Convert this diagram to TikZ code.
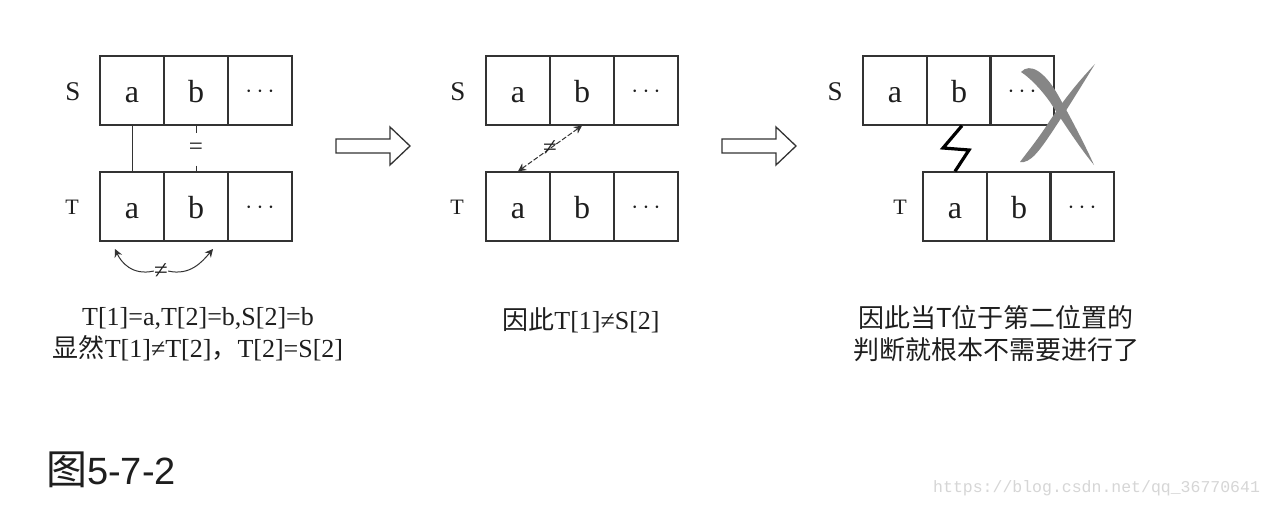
\documentclass[tikz,border=0pt]{standalone}
\usepackage{fontspec}
\setmainfont{Liberation Serif}
\newfontfamily\cjk{Noto Sans CJK SC}
\newfontfamily\capsans{Liberation Sans}
\newfontfamily\wmono{Liberation Mono}
\usetikzlibrary{arrows.meta}
\definecolor{boxline}{HTML}{333333}
\definecolor{txt}{HTML}{1E1E1E}
\definecolor{xgray}{HTML}{868686}
\definecolor{wm}{HTML}{D6D6D6}
\newcommand{\celldots}{\raisebox{5pt}{\(\cdots\)}}
\begin{document}
\begin{tikzpicture}[x=1pt,y=-1pt,
 cell/.style={draw=boxline, line width=1.3pt, minimum width=64pt, minimum height=69pt, inner sep=0pt, text height=24pt, text depth=0pt, font=\fontsize{32}{32}\selectfont, text=txt},
 lblS/.style={font=\fontsize{27}{27}\selectfont, text=txt, inner sep=0pt},
 lblT/.style={font=\fontsize{22}{22}\selectfont, text=txt, inner sep=0pt},
 captext/.style={font=\fontsize{26}{32}\selectfont, text=txt, align=center, inner sep=0pt},
 sym/.style={font=\fontsize{25}{25}\selectfont, text=txt, inner sep=0pt},
 conn/.style={line width=1pt, draw=boxline},
 tip/.style={-{Stealth[length=8pt,width=8pt,inset=2.5pt]}},
 hollow/.style={draw=boxline, line width=1.3pt, line join=miter, fill=white},
]
\fill[white] (0,0) rectangle (1274,508);
\useasboundingbox (0,0) rectangle (1274,508);

% ---------- panel 1 ----------
\node[lblS] (p1S) at (73,92) {S};
\node[lblT] (p1T) at (72,207) {T};
\node[cell] (s1a) at (132,90.5) {a};
\node[cell] (s1b) at (196,90.5) {b};
\node[cell] (s1c) at (260,90.5) {\celldots};
\node[cell] (t1a) at (132,206.5) {a};
\node[cell] (t1b) at (196,206.5) {b};
\node[cell] (t1c) at (260,206.5) {\celldots};
\draw[conn] (s1a.south) -- (t1a.north);
\draw[conn, dash pattern=on 7pt off 33pt on 7pt] (s1b.south) -- node[sym]{=} (t1b.north);
\node[sym] (ne1) at (161,271) {≠};
\coordinate (l1) at (115,249);
\coordinate (r1) at (213,249);
\draw[conn,tip] (ne1.west) .. controls (132,276) and (121,262) .. (l1);
\draw[conn,tip] (ne1.east) .. controls (190,276) and (202,262) .. (r1);
\node[captext] (c1) at (198,334) {T[1]=a,T[2]=b,S[2]=b\\{\cjk 显然}T[1]≠T[2]{\cjk ，}T[2]=S[2]};

% ---------- arrows between panels ----------
\draw[hollow] (336,139) -- (390,139) -- (390,127) -- (410,146) -- (390,165) -- (390,153) -- (336,153) -- cycle;
\draw[hollow] (722,139) -- (776,139) -- (776,127) -- (796,146) -- (776,165) -- (776,153) -- (722,153) -- cycle;

% ---------- panel 2 ----------
\node[lblS] (p2S) at (458,92) {S};
\node[lblT] (p2T) at (457,207) {T};
\node[cell] (s2a) at (518,90.5) {a};
\node[cell] (s2b) at (582,90.5) {b};
\node[cell] (s2c) at (646,90.5) {\celldots};
\node[cell] (t2a) at (518,206.5) {a};
\node[cell] (t2b) at (582,206.5) {b};
\node[cell] (t2c) at (646,206.5) {\celldots};
\draw[conn, dash pattern=on 5pt off 2pt, {Stealth[length=8pt,width=8pt,inset=2.5pt]}-{Stealth[length=8pt,width=8pt,inset=2.5pt]}] (t2a.north) -- node[sym]{≠} (s2b.south);
\node[captext] (c2) at (581,320) {{\cjk 因此}T[1]≠S[2]};

% ---------- panel 3 ----------
\node[lblS] (p3S) at (835,92) {S};
\node[lblT] (p3T) at (900,207) {T};
\node[cell] (s3a) at (895,90.5) {a};
\node[cell] (s3b) at (959,90.5) {b};
\node[cell] (s3c) at (1022,90.5) {\celldots};
\node[cell] (t3a) at (955,206.5) {a};
\node[cell] (t3b) at (1019,206.5) {b};
\node[cell] (t3c) at (1082,206.5) {\celldots};
\draw[line width=3.2pt, line join=miter] ([xshift=3pt]s3b.south) -- (943,148) -- (969,150) -- (t3a.north);
% big grey cross
\fill[xgray] (1021,72) .. controls (1030,62) and (1045,72) .. (1058,95) .. controls (1072,120) and (1085,145) .. (1094,165) .. controls (1080,148) and (1065,125) .. (1050,102) .. controls (1040,88) and (1030,78) .. cycle;
\fill[xgray] (1095,64) .. controls (1075,85) and (1060,105) .. (1045,128) .. controls (1035,143) and (1025,155) .. (1020,162) .. controls (1030,164) and (1040,150) .. (1052,132) .. controls (1068,108) and (1082,85) .. cycle;
\node[captext, font=\cjk\fontsize{26}{32}\selectfont] (c3) at (996,334) {因此当T位于第二位置的\\判断就根本不需要进行了};

% ---------- caption & watermark ----------
\node[inner sep=0pt, anchor=west, text=txt] (fig) at (46,470) {{\cjk\fontsize{41}{41}\selectfont 图}{\capsans\fontsize{38}{38}\selectfont 5-7-2}};
\node[inner sep=0pt, anchor=west, text=wm, font=\wmono\fontsize{16.5}{16.5}\selectfont] (wmk) at (933,488) {https://blog.csdn.net/qq\_36770641};
\end{tikzpicture}
\end{document}
